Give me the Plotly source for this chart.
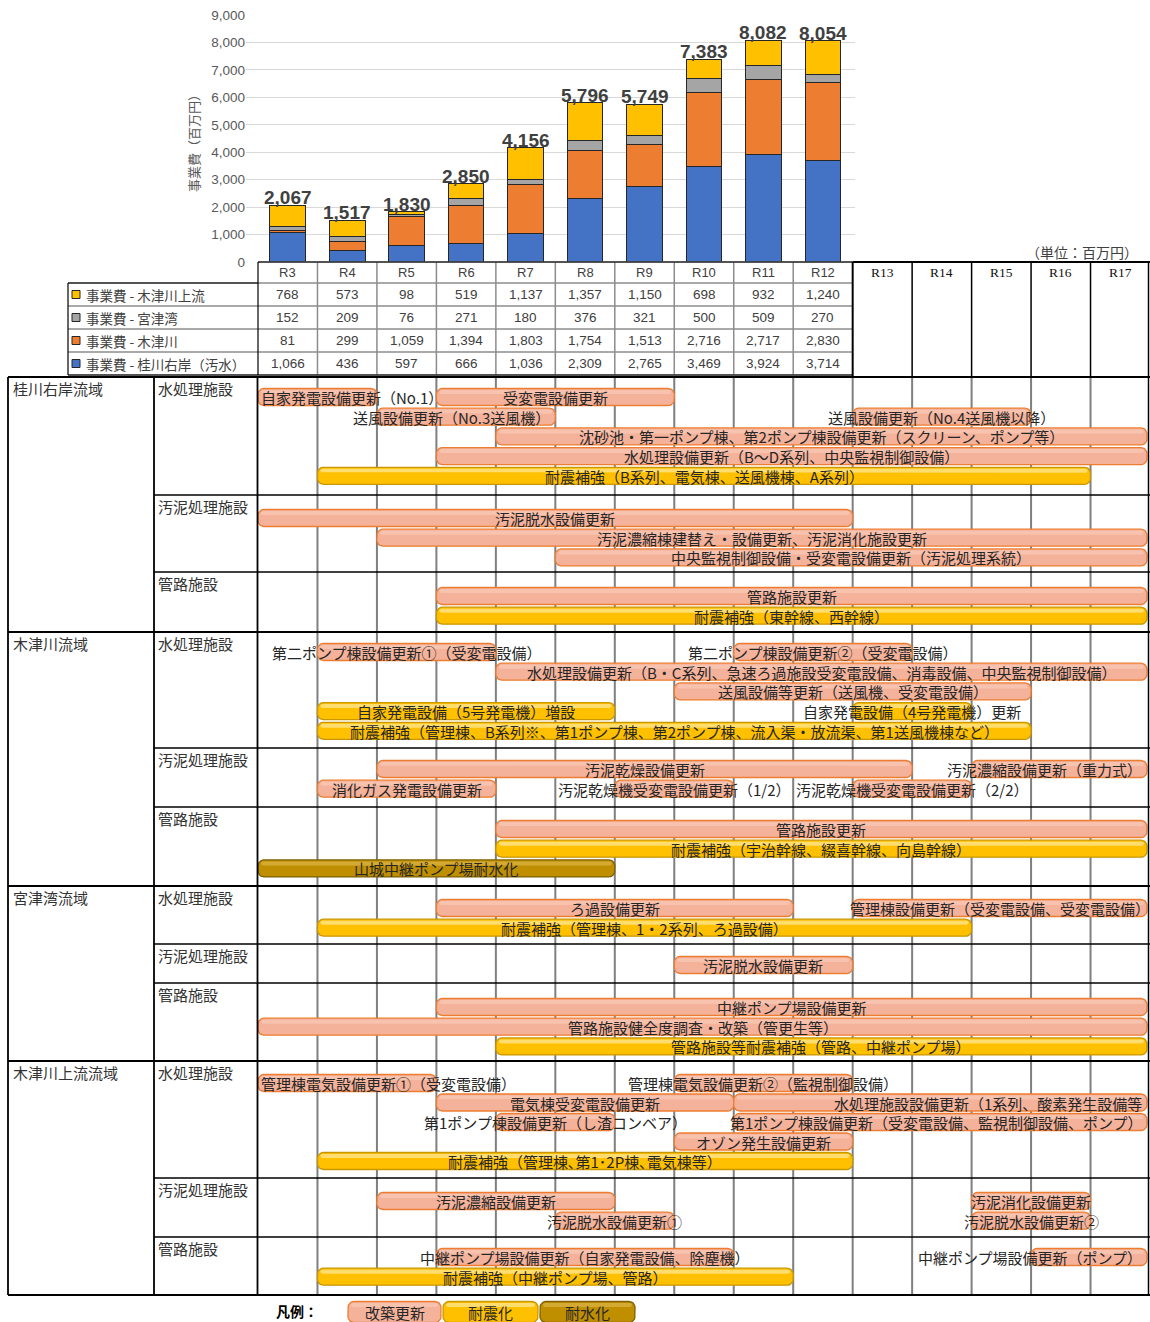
import math
import plotly.graph_objects as go

W, H = 1150, 1322

# ---------------- data ----------------
cost_years = ["R3", "R4", "R5", "R6", "R7", "R8", "R9", "R10", "R11", "R12"]
plan_years = cost_years + ["R13", "R14", "R15", "R16", "R17"]

# 事業費（百万円）
cost_kizu_upper = [768, 573, 98, 519, 1137, 1357, 1150, 698, 932, 1240]
cost_miyazu = [152, 209, 76, 271, 180, 376, 321, 500, 509, 270]
cost_kizu = [81, 299, 1059, 1394, 1803, 1754, 1513, 2716, 2717, 2830]
cost_katsura = [1066, 436, 597, 666, 1036, 2309, 2765, 3469, 3924, 3714]

series_labels = ["事業費 - 木津川上流", "事業費 - 宮津湾", "事業費 - 木津川", "事業費 - 桂川右岸（汚水）"]
series_values = [cost_kizu_upper, cost_miyazu, cost_kizu, cost_katsura]
series_colors = ["#FFC000", "#A5A5A5", "#ED7D31", "#4472C4"]

regions = ["桂川右岸流域", "木津川流域", "宮津湾流域", "木津川上流流域"]
facilities = ["水処理施設", "汚泥処理施設", "管路施設"]

kind_names = {"R": "改築更新", "Q": "耐震化", "F": "耐水化"}

# (section, lane, first year, last year, kind, label)
tasks = [
    (0, 0, 3, 4, "R", "自家発電設備更新（No.1）"),
    (0, 0, 6, 9, "R", "受変電設備更新"),
    (0, 1, 5, 7, "R", "送風設備更新（No.3送風機）"),
    (0, 1, 13, 15, "R", "送風設備更新（No.4送風機以降）"),
    (0, 2, 7, 17, "R", "沈砂池・第一ポンプ棟、第2ポンプ棟設備更新（スクリーン、ポンプ等）"),
    (0, 3, 6, 17, "R", "水処理設備更新（B～D系列、中央監視制御設備）"),
    (0, 4, 4, 16, "Q", "耐震補強（B系列、電気棟、送風機棟、A系列）"),
    (1, 0, 3, 12, "R", "汚泥脱水設備更新"),
    (1, 1, 5, 17, "R", "汚泥濃縮棟建替え・設備更新、汚泥消化施設更新"),
    (1, 2, 8, 17, "R", "中央監視制御設備・受変電設備更新（汚泥処理系統）"),
    (2, 0, 6, 17, "R", "管路施設更新"),
    (2, 1, 6, 17, "Q", "耐震補強（東幹線、西幹線）"),
    (3, 0, 4, 6, "R", "第二ポンプ棟設備更新①（受変電設備）"),
    (3, 0, 11, 13, "R", "第二ポンプ棟設備更新②（受変電設備）"),
    (3, 1, 7, 17, "R", "水処理設備更新（B・C系列、急速ろ過施設受変電設備、消毒設備、中央監視制御設備）"),
    (3, 2, 10, 15, "R", "送風設備等更新（送風機、受変電設備）"),
    (3, 3, 4, 8, "Q", "自家発電設備（5号発電機）増設"),
    (3, 3, 13, 14, "Q", "自家発電設備（4号発電機）更新"),
    (3, 4, 4, 15, "Q", "耐震補強（管理棟、B系列※、第1ポンプ棟、第2ポンプ棟、流入渠・放流渠、第1送風機棟など）"),
    (4, 0, 5, 13, "R", "汚泥乾燥設備更新"),
    (4, 0, 15, 17, "R", "汚泥濃縮設備更新（重力式）"),
    (4, 1, 4, 6, "R", "消化ガス発電設備更新"),
    (4, 1, 9, 10, "R", "汚泥乾燥機受変電設備更新（1/2）"),
    (4, 1, 13, 14, "R", "汚泥乾燥機受変電設備更新（2/2）"),
    (5, 0, 7, 17, "R", "管路施設更新"),
    (5, 1, 7, 17, "Q", "耐震補強（宇治幹線、綴喜幹線、向島幹線）"),
    (5, 2, 3, 8, "F", "山城中継ポンプ場耐水化"),
    (6, 0, 6, 11, "R", "ろ過設備更新"),
    (6, 0, 13, 17, "R", "管理棟設備更新（受変電設備、受変電設備）"),
    (6, 1, 4, 14, "Q", "耐震補強（管理棟、1・2系列、ろ過設備）"),
    (7, 0, 10, 12, "R", "汚泥脱水設備更新"),
    (8, 0, 6, 17, "R", "中継ポンプ場設備更新"),
    (8, 1, 3, 17, "R", "管路施設健全度調査・改築（管更生等）"),
    (8, 2, 7, 17, "Q", "管路施設等耐震補強（管路、中継ポンプ場）"),
    (9, 0, 3, 5, "R", "管理棟電気設備更新①（受変電設備）"),
    (9, 0, 10, 12, "R", "管理棟電気設備更新②（監視制御設備）"),
    (9, 1, 6, 10, "R", "電気棟受変電設備更新"),
    (9, 1, 11, 17, "R", "水処理施設設備更新（1系列、酸素発生設備等"),
    (9, 2, 7, 8, "R", "第1ポンプ棟設備更新（し渣コンベア）"),
    (9, 2, 11, 17, "R", "第1ポンプ棟設備更新（受変電設備、監視制御設備、ポンプ）"),
    (9, 3, 10, 12, "R", "オゾン発生設備更新"),
    (9, 4, 4, 12, "Q", "耐震補強（管理棟､第1･2P棟､電気棟等）"),
    (10, 0, 5, 8, "R", "汚泥濃縮設備更新"),
    (10, 0, 15, 16, "R", "汚泥消化設備更新"),
    (10, 1, 8, 9, "R", "汚泥脱水設備更新①"),
    (10, 1, 15, 16, "R", "汚泥脱水設備更新②"),
    (11, 0, 6, 10, "R", "中継ポンプ場設備更新（自家発電設備、除塵機）"),
    (11, 0, 16, 17, "R", "中継ポンプ場設備更新（ポンプ）"),
    (11, 1, 4, 11, "Q", "耐震補強（中継ポンプ場、管路）"),
]

# ---------------- layout geometry (pixels) ----------------
X_PLAN0 = 258.0                       # left edge of the R3 column
COLW = (W - X_PLAN0) / len(plan_years)
Y_ZERO, Y_TOP = 262.0, 15.0            # bar-chart value axis
TABLE_ROWS = [262, 283, 306, 329, 352, 375]
X_LABEL0 = 68

SEC_TOP = [377, 495, 572, 632, 748, 807, 886, 944, 983, 1061, 1178, 1237]
SEC_BOTTOM = 1295
# lane centre offsets from each section's top edge
LANE_STEP = 19.7
SEC_FIRST = [20, 23, 24, 20, 21, 22, 22, 21, 24, 23, 23, 20]
SEC_LANES = {9: [22, 41.5, 61, 80.5, 100]}
BAR_HH = 8.5
BAR_R = 6.0

JP = "Noto Sans CJK JP"
SANS = "Liberation Sans, Arial, Noto Sans CJK JP"


def yr(px):
    """pixel x -> year-number axis value (R3 column centred on 3)"""
    return 2.5 + (px - X_PLAN0) / COLW


def ynum(label):
    return int(label[1:])


def lane_y(sec, lane):
    if sec in SEC_LANES:
        return SEC_TOP[sec] + SEC_LANES[sec][lane]
    return SEC_TOP[sec] + SEC_FIRST[sec] + lane * LANE_STEP


STYLE = {
    "R": dict(fill="#F5B29B", line="#ED7D31", gloss="#F8C6B3"),
    "Q": dict(fill="#FFC000", line="#C99700", gloss="#FFE48A"),
    "F": dict(fill="#BF8F00", line="#7F6000", gloss="#D9B040"),
}

fig = go.Figure()

# ---------------- stacked cost bars ----------------
cost_x = [ynum(y) for y in cost_years]
for idx in [3, 2, 1, 0]:
    fig.add_trace(go.Bar(
        x=cost_x, y=series_values[idx], name=series_labels[idx],
        marker=dict(color=series_colors[idx], line=dict(color="#262626", width=1)),
        width=0.6, xaxis="x", yaxis="y", hoverinfo="skip", showlegend=False,
    ))

totals = [sum(v) for v in zip(*series_values)]
annotations = []
for x, t in zip(cost_x, totals):
    annotations.append(dict(
        x=x, y=t, xref="x", yref="y", text=f"{t:,}", showarrow=False,
        yanchor="bottom", yshift=-5,
        font=dict(family=SANS, size=19, color="#404040", weight="bold"),
    ))

annotations.append(dict(
    x=193 / W, y=1 - 140 / H, xref="paper", yref="paper", text="事業費（百万円）",
    textangle=-90, showarrow=False, xanchor="center", yanchor="middle",
    font=dict(family=JP, size=13, color="#595959"),
))

shapes = []


def hline(x0, x1, y, color="#000", width=1.5, layer="above"):
    shapes.append(dict(type="line", xref="x2", yref="y2", x0=yr(x0), x1=yr(x1), y0=y, y1=y,
                       line=dict(color=color, width=width), layer=layer))


def vline(x, y0, y1, color="#000", width=1.5, layer="above"):
    shapes.append(dict(type="line", xref="x2", yref="y2", x0=yr(x), x1=yr(x), y0=y0, y1=y1,
                       line=dict(color=color, width=width), layer=layer))


annotations.append(dict(
    x=yr(1082), y=252, xref="x2", yref="y2", text="（単位：百万円）", showarrow=False,
    font=dict(family=JP, size=14, color="#404040"),
))

# ---------------- data table under the bars ----------------
x_cost_end = X_PLAN0 + COLW * len(cost_years)
for i, y in enumerate(TABLE_ROWS):
    x0 = X_PLAN0 if i == 0 else X_LABEL0
    hline(x0, x_cost_end, y, color="#8C8C8C", width=1.5)
for k in range(1, len(cost_years)):
    vline(X_PLAN0 + k * COLW, TABLE_ROWS[0], TABLE_ROWS[-1], color="#8C8C8C", width=1.5)
# outer frame
hline(X_PLAN0, x_cost_end, TABLE_ROWS[0], width=1.2)
hline(X_LABEL0, X_PLAN0, TABLE_ROWS[1], width=1.2)
hline(X_LABEL0, x_cost_end, TABLE_ROWS[-1], width=1.2)
vline(X_LABEL0, TABLE_ROWS[1], TABLE_ROWS[-1], width=1.2)
vline(X_PLAN0, TABLE_ROWS[0], TABLE_ROWS[-1], width=1.2)

for lab in cost_years:
    annotations.append(dict(x=ynum(lab), y=(TABLE_ROWS[0] + TABLE_ROWS[1]) / 2, xref="x2", yref="y2",
                            text=lab, showarrow=False, font=dict(family=SANS, size=13, color="#404040")))
for r, (lab, vals, col) in enumerate(zip(series_labels, series_values, series_colors)):
    yc = (TABLE_ROWS[r + 1] + TABLE_ROWS[r + 2]) / 2
    shapes.append(dict(type="rect", xref="x2", yref="y2", x0=yr(72), x1=yr(80), y0=yc - 4, y1=yc + 4,
                       fillcolor=col, line=dict(color="#262626", width=1)))
    annotations.append(dict(x=yr(84), y=yc, xref="x2", yref="y2", text=lab, xanchor="left",
                            showarrow=False, font=dict(family=JP, size=13.5, color="#404040")))
    for lab_y, v in zip(cost_years, vals):
        annotations.append(dict(x=ynum(lab_y), y=yc, xref="x2", yref="y2", text=f"{v:,}",
                                showarrow=False, font=dict(family=SANS, size=13.5, color="#404040")))

# header cells for the remaining plan years
hline(x_cost_end, W, TABLE_ROWS[0], width=2)
for k in range(len(cost_years), len(plan_years) + 1):
    vline(X_PLAN0 + k * COLW - (1.5 if k == len(plan_years) else 0), TABLE_ROWS[0], SEC_TOP[0],
          width=2 if k == len(cost_years) else 1.5)
for lab in plan_years[len(cost_years):]:
    annotations.append(dict(x=ynum(lab), y=272, xref="x2", yref="y2", text=lab, showarrow=False,
                            font=dict(family="Liberation Serif, DejaVu Serif", size=13.5, color="#111")))

# ---------------- schedule grid ----------------
for k in range(1, len(plan_years)):
    vline(X_PLAN0 + k * COLW, SEC_TOP[0], SEC_BOTTOM, color="#7F7F7F", width=2, layer="below")

for i, top in enumerate(SEC_TOP):
    if i % 3 == 0:
        hline(8, W, top, width=2.2)
    else:
        hline(154, W, top, width=1.6)
hline(8, W, SEC_BOTTOM, width=2.2)
for x in (8, 154, X_PLAN0 - 0.5):
    vline(x, SEC_TOP[0], SEC_BOTTOM, width=1.8)
vline(W - 1.5, SEC_TOP[0], SEC_BOTTOM, width=1.5)

for i, top in enumerate(SEC_TOP):
    if i % 3 == 0:
        annotations.append(dict(x=yr(11), y=top + 11, xref="x2", yref="y2", text=regions[i // 3],
                                xanchor="left", showarrow=False,
                                font=dict(family=JP, size=15, color="#333333")))
    annotations.append(dict(x=yr(156), y=top + 11, xref="x2", yref="y2", text=facilities[i % 3],
                            xanchor="left", showarrow=False,
                            font=dict(family=JP, size=15, color="#333333")))


def rounded(x0, x1, y0, y1, r=BAR_R, n=6):
    """Outline of a round-cornered box: x in year units, y in pixels."""
    r = min(r, (y1 - y0) / 2)
    rx = r / COLW
    corners = [(x1 - rx, y0 + r, -90, 0), (x1 - rx, y1 - r, 0, 90),
               (x0 + rx, y1 - r, 90, 180), (x0 + rx, y0 + r, 180, 270)]
    xs, ys = [], []
    for cx, cy, a0, a1 in corners:
        for j in range(n + 1):
            a = math.radians(a0 + (a1 - a0) * j / n)
            xs.append(cx + rx * math.cos(a))
            ys.append(cy + r * math.sin(a))
    xs.append(xs[0])
    ys.append(ys[0])
    return xs, ys


def add_bar(x0, x1, yc, kind, hh=BAR_HH):
    st = STYLE[kind]
    xs, ys = rounded(x0, x1, yc - hh, yc + hh)
    fig.add_trace(go.Scatter(
        x=xs, y=ys, mode="lines", fill="toself", xaxis="x2", yaxis="y2",
        line=dict(color=st["line"], width=1.3), fillcolor=st["fill"],
        hoverinfo="skip", showlegend=False,
    ))
    # glossy highlight along the upper edge
    inset = 3 / COLW
    gx, gy = rounded(x0 + inset, x1 - inset, yc - hh + 1.5, yc - hh + 5.5, r=2)
    fig.add_trace(go.Scatter(
        x=gx, y=gy, mode="lines", fill="toself", xaxis="x2", yaxis="y2",
        line=dict(width=0), fillcolor=st["gloss"], opacity=0.8,
        hoverinfo="skip", showlegend=False,
    ))


label_anchor = {
    "自家発電設備更新（No.1）": "left",
    "送風設備更新（No.3送風機）": "right",
    "汚泥濃縮設備更新（重力式）": "right",
    "管理棟電気設備更新①（受変電設備）": "left",
    "水処理施設設備更新（1系列、酸素発生設備等": "right",
    "第1ポンプ棟設備更新（受変電設備、監視制御設備、ポンプ）": "right",
    "中継ポンプ場設備更新（ポンプ）": "right",
}

x_end = yr(W - 3)
for sec, lane, y0, y1, kind, label in tasks:
    yc = lane_y(sec, lane)
    x0 = y0 - 0.5
    x1 = min(y1 + 0.5, x_end)
    add_bar(x0, x1, yc, kind)
    anchor = label_anchor.get(label, "center")
    if anchor == "left":
        tx = x0 + 1 / COLW
    elif anchor == "right":
        tx = x1 - 3 / COLW
    else:
        tx = (x0 + x1) / 2
    annotations.append(dict(x=tx, y=yc + 0.5, xref="x2", yref="y2", text=label, xanchor=anchor,
                            showarrow=False, font=dict(family=JP, size=15, color="#262626")))

# ---------------- legend ----------------
annotations.append(dict(x=yr(297), y=1311, xref="x2", yref="y2", text="凡例：", showarrow=False,
                        font=dict(family=JP, size=14, color="#000", weight="bold")))
legend_boxes = [(348, 441), (443, 538), (540, 635)]
for (lx0, lx1), kind in zip(legend_boxes, ["R", "Q", "F"]):
    add_bar(yr(lx0), yr(lx1), 1312, kind, hh=10.5)
    annotations.append(dict(x=(yr(lx0) + yr(lx1)) / 2, y=1312, xref="x2", yref="y2",
                            text=kind_names[kind], showarrow=False,
                            font=dict(family=JP, size=15, color="#262626")))

fig.update_layout(
    width=W, height=H, margin=dict(l=0, r=0, t=0, b=0, autoexpand=False),
    paper_bgcolor="white", plot_bgcolor="rgba(0,0,0,0)",
    barmode="stack", showlegend=False,
    xaxis=dict(domain=[246 / W, 855 / W], range=[yr(246), yr(855)], visible=False, anchor="y",
               automargin=False),
    yaxis=dict(domain=[1 - Y_ZERO / H, 1 - Y_TOP / H], range=[0, 9000], anchor="x",
               tickvals=list(range(0, 9001, 1000)), tickformat=",", showgrid=True,
               gridcolor="#D9D9D9", gridwidth=1, zeroline=False, showline=False, ticks="",
               automargin=False, tickfont=dict(family=SANS, size=13.5, color="#595959")),
    xaxis2=dict(domain=[0, 1], range=[yr(0), yr(W)], visible=False, anchor="y2", automargin=False),
    yaxis2=dict(domain=[0, 1], range=[H, 0], visible=False, anchor="x2", automargin=False),
    shapes=shapes, annotations=annotations,
)

fig.write_html("out.html")
